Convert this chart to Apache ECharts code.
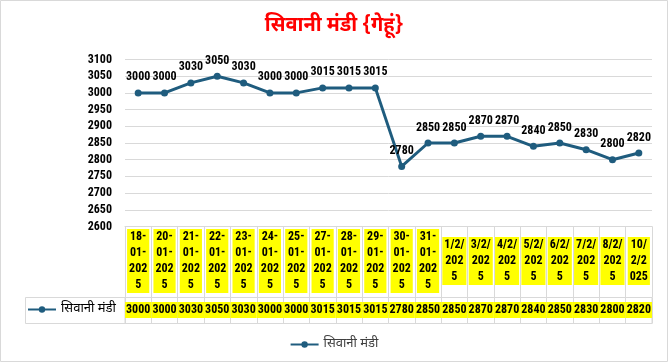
<!DOCTYPE html>
<html>
<head>
<meta charset="utf-8">
<script src="https://cdn.jsdelivr.net/npm/echarts@6/dist/echarts.min.js"></script>
<style>
html,body{margin:0;padding:0;background:#fff;}
#chart{width:668px;height:362px;}
</style>
</head>
<body>
<div id="chart"></div>
<script>
var seriesName = 'सिवानी मंडी';
var titleText = 'सिवानी मंडी {गेहूं}';
var categories = [
  '18-\n01-\n202\n5', '20-\n01-\n202\n5', '21-\n01-\n202\n5', '22-\n01-\n202\n5',
  '23-\n01-\n202\n5', '24-\n01-\n202\n5', '25-\n01-\n202\n5', '27-\n01-\n202\n5',
  '28-\n01-\n202\n5', '29-\n01-\n202\n5', '30-\n01-\n202\n5', '31-\n01-\n202\n5',
  '1/2/\n202\n5', '3/2/\n202\n5', '4/2/\n202\n5', '5/2/\n202\n5',
  '6/2/\n202\n5', '7/2/\n202\n5', '8/2/\n202\n5', '10/\n2/2\n025'
];
var prices = [3000, 3000, 3030, 3050, 3030, 3000, 3000, 3015, 3015, 3015,
              2780, 2850, 2850, 2870, 2870, 2840, 2850, 2830, 2800, 2820];
var yMin = 2600, yMax = 3100, yStep = 50;

var numFont = "'Liberation Sans Narrow', 'Arial Narrow', 'Roboto Condensed', sans-serif";
var devFont = "'Noto Sans Devanagari', 'Lohit Devanagari', 'Mangal', 'Noto Sans', sans-serif";
var lineColor = '#1F5C7E';
var gridGray = '#D9D9D9';

var chart = echarts.init(document.getElementById('chart'), null, {renderer: 'canvas'});
chart.setOption({
  animation: false,
  backgroundColor: '#fff',
  title: {
    text: titleText,
    left: 'center',
    top: 12,
    textStyle: {color: '#FF0000', fontSize: 20, fontWeight: 'bold', fontFamily: devFont}
  },
  legend: [{
    data: [seriesName],
    left: 'center',
    top: 333,
    itemWidth: 28,
    itemHeight: 8,
    itemGap: 0,
    textStyle: {color: '#404040', fontSize: 13, fontFamily: devFont}
  }, {
    data: [seriesName],
    left: 22,
    top: 298,
    itemWidth: 28,
    itemHeight: 8,
    textStyle: {color: '#000', fontSize: 13, fontFamily: devFont}
  }],
  graphic: [{
    type: 'rect',
    shape: {x: 0.5, y: 0.5, width: 667, height: 361},
    style: {fill: 'none', stroke: gridGray, lineWidth: 1},
    silent: true
  }, {
    type: 'rect',
    shape: {x: 25.5, y: 297.5, width: 100, height: 26},
    style: {fill: 'none', stroke: gridGray, lineWidth: 1},
    silent: true
  }],
  grid: [{
    left: 125, right: 16, top: 59.5, height: 167,
    containLabel: false
  }, {
    left: 125, right: 16, top: 297.5, height: 26,
    containLabel: false,
    show: true, borderColor: gridGray, borderWidth: 1, backgroundColor: 'transparent'
  }],
  xAxis: [{
    gridIndex: 0,
    type: 'category',
    data: categories,
    boundaryGap: true,
    axisLine: {show: true, lineStyle: {color: gridGray, width: 1}},
    axisTick: {show: true, interval: 0, length: 71, lineStyle: {color: gridGray}},
    axisLabel: {
      interval: 0,
      margin: 34.5,
      verticalAlign: 'middle',
      color: '#000',
      fontSize: 12,
      fontWeight: 'bold',
      fontFamily: numFont,
      lineHeight: 16,
      backgroundColor: '#FFFF00',
      padding: [0, 2]
    },
    splitLine: {show: false}
  }, {
    gridIndex: 1,
    type: 'category',
    data: categories,
    boundaryGap: true,
    axisLine: {show: false},
    axisTick: {show: true, inside: true, interval: 0, length: 26, lineStyle: {color: gridGray}},
    axisLabel: {
      interval: 0,
      inside: true,
      margin: 13.5,
      verticalAlign: 'middle',
      color: '#000',
      fontSize: 12,
      fontWeight: 'bold',
      fontFamily: numFont,
      backgroundColor: '#FFFF00',
      padding: [2, 1],
      formatter: function (v, i) { return String(prices[i]); }
    }
  }],
  yAxis: [{
    gridIndex: 0,
    type: 'value',
    min: yMin, max: yMax, interval: yStep,
    axisLine: {show: false},
    axisTick: {show: false},
    splitLine: {show: true, lineStyle: {color: gridGray, width: 1}},
    axisLabel: {
      margin: 13, color: '#000', fontSize: 12, fontWeight: 'bold', fontFamily: numFont,
      formatter: function (v) { return String(v); }
    }
  }, {
    gridIndex: 1,
    type: 'value',
    min: 0, max: 1,
    show: false
  }],
  series: [{
    name: seriesName,
    type: 'line',
    xAxisIndex: 0, yAxisIndex: 0,
    data: prices,
    symbol: 'circle',
    symbolSize: 7,
    lineStyle: {color: lineColor, width: 3},
    itemStyle: {color: lineColor},
    label: {
      show: true,
      position: 'top',
      distance: 6,
      color: '#000',
      fontSize: 12,
      fontWeight: 'bold',
      fontFamily: numFont
    }
  }]
});
</script>
</body>
</html>
